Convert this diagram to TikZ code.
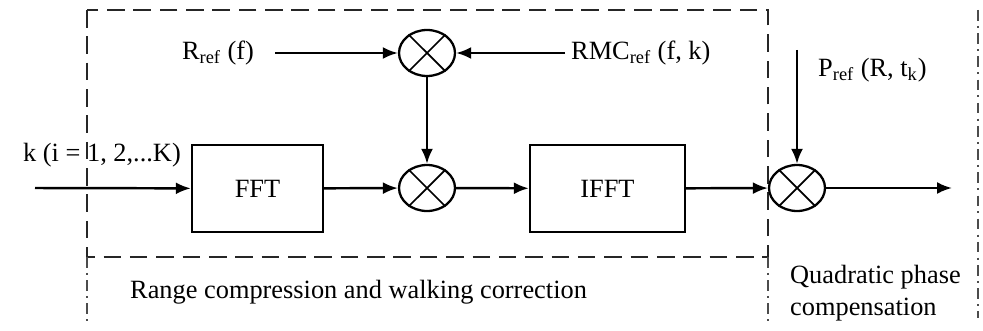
\documentclass[tikz,border=0pt]{standalone}
\usepackage{fontspec}
\setmainfont{Liberation Serif}
\usepackage{tikz}
\usetikzlibrary{arrows.meta,shapes.geometric,positioning,calc}

\begin{document}
\begin{tikzpicture}[x=0.02cm,y=-0.02cm,
  font=\fontsize{15}{18}\selectfont,
  block/.style={draw,line width=1.4pt,minimum height=1.74cm,inner sep=0pt},
  mult/.style={draw,line width=1.3pt,ellipse,minimum width=1.12cm,minimum height=0.92cm,inner sep=0pt},
  flow/.style={line width=1.4pt,-{Latex[length=0.3cm,width=0.24cm]}},
  boxline/.style={line width=1.6pt,black!85,dash pattern=on 10pt off 5pt},
  sepline/.style={line width=1.3pt,black!70,dash pattern=on 6pt off 3pt on 1.2pt off 3pt}]
\useasboundingbox (0,0) rectangle (983,331);
% dashed frame and separators
\draw[boxline] (87,10) rectangle (768,257);
\draw[sepline] (87,257) -- (87,325);
\draw[sepline] (768,257) -- (768,325);
\draw[sepline] (978,10) -- (978,318);
% blocks
\node[block,minimum width=2.62cm] (fft) at (257.5,188.5) {FFT};
\node[block,minimum width=3.1cm] (ifft) at (607.5,188.5) {IFFT};
\node[mult] (m1) at (427,53) {};
\node[mult] (m2) at (427,188) {};
\node[mult] (m3) at (797,188) {};
\foreach \m in {m1,m2,m3}{
  \draw[line width=1pt] (\m.45) -- (\m.225) (\m.135) -- (\m.315);
}
% inputs and labels
\node (rref) at (218,53) {R\textsubscript{ref} (f)};
\node[anchor=west] (rmc) at (565,53) {RMC\textsubscript{ref} (f, k)};
\node[anchor=west] (pref) at (812,70) {P\textsubscript{ref} (R, t\textsubscript{k})};
\node (kin) at (102,155) {k (i = 1, 2,...K)};
\coordinate (in) at (35,188);
\coordinate (ptop) at (797,50);
\coordinate (out) at (952,188);
% connections
\draw[flow,shorten <=0.3cm] (rref) -- (m1);
\draw[flow] (rmc) -- (m1);
\draw[flow] (m1) -- (m2);
\draw[flow] (in) -- (fft);
\draw[flow] (fft) -- (m2);
\draw[flow] (m2) -- (ifft);
\draw[flow] (ifft) -- (m3);
\draw[flow] (ptop) -- (m3);
\draw[flow] (m3) -- (out);
% captions
\node[anchor=west] (cap1) at (124,292) {Range compression and walking correction};
\node[anchor=west,align=left] (cap2) at (784,293) {Quadratic phase\\compensation};
\end{tikzpicture}
\end{document}
